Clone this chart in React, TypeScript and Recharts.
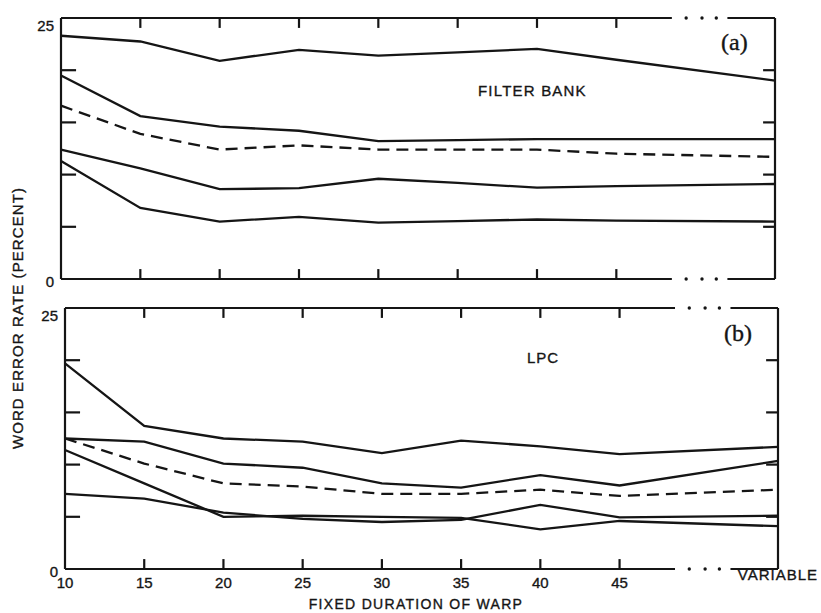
import { Line, LineChart, ReferenceDot, ReferenceLine, XAxis, YAxis } from 'recharts'

// warp durations; 55 stands in for the "VARIABLE" column after the break
const durations = [10, 15, 20, 25, 30, 35, 40, 45, 55]
const innerXTicks = [15, 20, 25, 30, 35, 40, 45]
const innerYTicks = [5, 10, 15, 20]
const yLabelTicks = [0, 25]
const breakDots = [49.4, 50.4, 51.3]
const breakGap = [48.5, 52]

// (a) filter bank
const fbTop = [23.3, 22.75, 20.9, 21.95, 21.4, 21.7, 22.05, 21.0, 19.0]
const fbSecond = [19.5, 15.6, 14.6, 14.2, 13.2, 13.3, 13.4, 13.4, 13.4]
const fbDashed = [16.6, 13.9, 12.4, 12.8, 12.4, 12.4, 12.4, 12.0, 11.7]
const fbFourth = [12.4, 10.6, 8.6, 8.7, 9.6, 9.2, 8.75, 8.9, 9.1]
const fbBottom = [11.3, 6.8, 5.5, 5.95, 5.4, 5.55, 5.7, 5.6, 5.5]

// (b) LPC
const lpcTop = [19.7, 13.7, 12.5, 12.2, 11.1, 12.3, 11.75, 11.0, 11.7]
const lpcSecond = [12.5, 12.2, 10.1, 9.7, 8.2, 7.8, 9.0, 8.0, 10.35]
const lpcDashed = [12.5, 10.1, 8.2, 7.9, 7.2, 7.2, 7.6, 7.0, 7.6]
const lpcFourth = [11.4, 8.2, 5.0, 5.1, 5.0, 4.9, 3.8, 4.6, 4.1]
const lpcFifth = [7.2, 6.75, 5.4, 4.8, 4.5, 4.7, 6.15, 4.95, 5.1]

const INK = '#151515'
const SANS = '"Liberation Sans", Arial, sans-serif'
const SERIF = '"Liberation Serif", "Times New Roman", serif'

// inward tick lengths, in axis units (about 10px up/down, 15px left, 12px right)
const X_TICK_LEN = 0.95
const LEFT_TICK_LEN = 0.95
const RIGHT_TICK_LEN = 0.75

function build(series: number[][]) {
  return durations.map((x, i) => {
    const row: Record<string, number> = { x }
    series.forEach((s, k) => (row['s' + k] = s[i]))
    return row
  })
}

// scanned type is a bit heavier than plain regular
const heavy = { stroke: INK, strokeWidth: 0.35 }

const YTick = ({ x, y, payload }: any) => (
  <text x={x} y={y} dy={payload.value === 25 ? 13 : 8} textAnchor="end" fontSize={15} fontFamily={SANS} fill={INK} {...heavy}>
    {payload.value}
  </text>
)

const XTick = ({ x, y, payload }: any) => {
  const isVar = payload.value === 55
  return (
    <text x={x} y={y + (isVar ? 11 : 19)} textAnchor="middle" fontSize={15} fontFamily={SANS} fill={INK}
      letterSpacing={isVar ? 1 : 0} {...heavy}>
      {isVar ? 'VARIABLE' : payload.value}
    </text>
  )
}

function Panel({ series, width, height, margin, labelWidth, showX }: any) {
  const data = build(series)
  const frame = { stroke: INK, strokeWidth: 2.2 }
  const seg = (x1: number, y1: number, x2: number, y2: number, key: string) => (
    <ReferenceLine key={key} xAxisId="x" yAxisId="y" segment={[{ x: x1, y: y1 }, { x: x2, y: y2 }]} {...frame} />
  )
  return (
    <LineChart width={width} height={height} data={data} margin={margin}>
      <XAxis
        xAxisId="x"
        type="number"
        dataKey="x"
        domain={[10, 55]}
        ticks={durations}
        hide={!showX}
        height={showX ? 44 : 0}
        axisLine={false}
        tickLine={false}
        tickSize={0}
        tickMargin={0}
        tick={<XTick />}
        interval={0}
      />
      <YAxis
        yAxisId="y"
        type="number"
        domain={[0, 25]}
        ticks={yLabelTicks}
        width={labelWidth}
        axisLine={frame}
        tickLine={false}
        tickSize={0}
        tickMargin={7}
        tick={<YTick />}
        interval={0}
      />
      <ReferenceLine xAxisId="x" yAxisId="y" x={55} {...frame} />
      {[0, 25].map((yv) => seg(10, yv, breakGap[0], yv, 'a' + yv))}
      {[0, 25].map((yv) => seg(breakGap[1], yv, 55, yv, 'b' + yv))}
      {innerXTicks.map((t) => seg(t, 0, t, X_TICK_LEN, 'xb' + t))}
      {innerXTicks.map((t) => seg(t, 25, t, 25 - X_TICK_LEN, 'xt' + t))}
      {innerYTicks.map((t) => seg(10, t, 10 + LEFT_TICK_LEN, t, 'yl' + t))}
      {innerYTicks.map((t) => seg(55, t, 55 - RIGHT_TICK_LEN, t, 'yr' + t))}
      {[0, 25].flatMap((yv) =>
        breakDots.map((xv) => (
          <ReferenceDot key={yv + '-' + xv} xAxisId="x" yAxisId="y" x={xv} y={yv} r={1.7} fill={INK} stroke="none" />
        ))
      )}
      {series.map((_: number[], k: number) => (
        <Line
          key={k}
          xAxisId="x"
          yAxisId="y"
          dataKey={'s' + k}
          type="linear"
          stroke={INK}
          strokeWidth={2.3}
          strokeDasharray={k === 2 ? '12 7' : undefined}
          dot={false}
          activeDot={false}
          isAnimationActive={false}
        />
      ))}
    </LineChart>
  )
}

const abs = (left: number, top: number, extra: any = {}) => ({ position: 'absolute' as const, left, top, ...extra })
const heavyCss = { WebkitTextStroke: '0.35px ' + INK }

export default function App() {
  return (
    <div style={{ position: 'absolute', left: 0, top: 0, width: 821, height: 613, background: '#fff', overflow: 'hidden', fontFamily: SANS, color: INK }}>
      <div style={abs(0, 0)}>
        <Panel
          series={[fbTop, fbSecond, fbDashed, fbFourth, fbBottom]}
          width={821}
          height={300}
          margin={{ top: 18, right: 46, bottom: 21, left: 0 }}
          labelWidth={61}
          showX={false}
        />
      </div>
      <div style={abs(0, 290)}>
        <Panel
          series={[lpcTop, lpcSecond, lpcDashed, lpcFourth, lpcFifth]}
          width={821}
          height={323}
          margin={{ top: 18, right: 43, bottom: 0, left: 0 }}
          labelWidth={65}
          showX={true}
        />
      </div>
      <div style={abs(721, 28, { fontFamily: SERIF, fontSize: 24, lineHeight: '28px', ...heavyCss })}>(a)</div>
      <div style={abs(478, 82, { fontSize: 15, letterSpacing: 1.2, lineHeight: '18px', ...heavyCss })}>FILTER BANK</div>
      <div style={abs(724, 319, { fontFamily: SERIF, fontSize: 24, lineHeight: '28px', ...heavyCss })}>(b)</div>
      <div style={abs(527, 349, { fontSize: 15, letterSpacing: 1, lineHeight: '18px', ...heavyCss })}>LPC</div>
      <div style={abs(416, 604, { fontSize: 14, letterSpacing: 1.3, lineHeight: '14px', transform: 'translate(-50%, -50%)', whiteSpace: 'nowrap', ...heavyCss })}>
        FIXED DURATION OF WARP
      </div>
      <div style={abs(18, 318, { fontSize: 15, letterSpacing: 1.1, lineHeight: '18px', transform: 'translate(-50%, -50%) rotate(-90deg)', whiteSpace: 'nowrap', ...heavyCss })}>
        WORD ERROR RATE (PERCENT)
      </div>
    </div>
  )
}
